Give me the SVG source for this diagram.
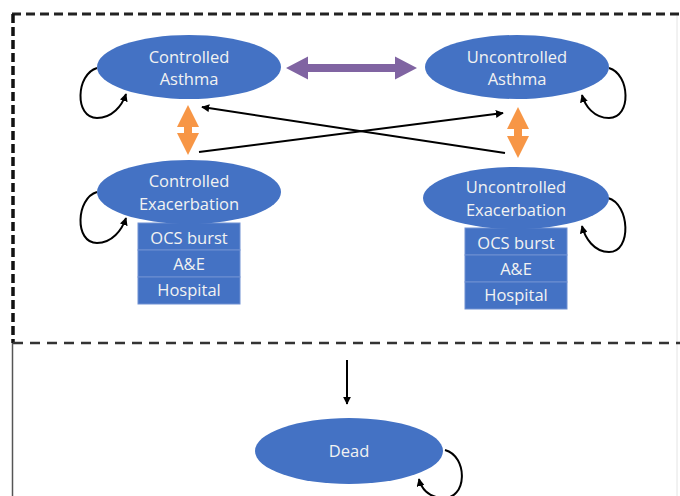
<svg xmlns="http://www.w3.org/2000/svg" width="680" height="496" viewBox="0 0 680 496">
<style>
.node{fill:#4472C4;}
.lbl{font-family:"Open Sans","Noto Sans","Liberation Sans",sans-serif;font-size:16.5px;fill:#F2F2F2;text-anchor:middle;}
.box{fill:#4472C4;stroke:#6F90D2;stroke-width:1;}
.conn{fill:none;stroke:#000;stroke-width:2;}
</style>
<defs>
<marker id="ah" viewBox="0 0 10 10" refX="9" refY="5" markerWidth="4" markerHeight="4" orient="auto" markerUnits="strokeWidth">
<path d="M0,0 L10,5 L0,10 z" fill="#000"/>
</marker>
</defs>
<rect width="680" height="496" fill="#fff"/>
<g id="frame">
<line x1="677" y1="14" x2="677" y2="496" stroke="#e4e4e4" stroke-width="1"/>
<line x1="12" y1="14" x2="680" y2="14" stroke="#222" stroke-width="3" stroke-dasharray="9,5"/>
<line x1="13" y1="14" x2="13" y2="343" stroke="#111" stroke-width="3.5" stroke-dasharray="9,4"/>
<line x1="13" y1="343" x2="680" y2="343" stroke="#333" stroke-width="2.5" stroke-dasharray="10,7"/>
<line x1="12.5" y1="343" x2="12.5" y2="496" stroke="#555" stroke-width="1.5"/>
</g>
<g id="connectors">
<path class="conn" d="M97,68 C76,74 74,118 97,118 C112,118 122,106 126,94" marker-end="url(#ah)"/>
<path class="conn" d="M97,192 C76,198 74,243 97,243 C112,243 122,230 126,218" marker-end="url(#ah)"/>
<path class="conn" d="M609,68 C630,74 632,118 609,118 C594,118 585,106 582,95" marker-end="url(#ah)"/>
<path class="conn" d="M608,198 C630,204 632,252 609,252 C594,252 585,238 582,226" marker-end="url(#ah)"/>
<path class="conn" d="M445,450 C468,456 468,500 442,498 C428,497 421,488 419,479" marker-end="url(#ah)"/>
<line class="conn" x1="505" y1="153" x2="202" y2="107" marker-end="url(#ah)"/>
<line class="conn" x1="199" y1="152" x2="503" y2="113" marker-end="url(#ah)"/>
<line class="conn" x1="347" y1="360" x2="347" y2="404" marker-end="url(#ah)"/>
<polygon fill="#8064A2" points="286,68 308,56.5 308,64 395,64 395,56.5 417,68 395,79.5 395,72 308,72 308,79.5"/>
<polygon fill="#F79646" points="188,105 199,127 192,127 192,133 199,133 188,155 177,133 184,133 184,127 177,127"/>
<polygon fill="#F79646" points="518,107 529,129 522,129 522,136 529,136 518,158 507,136 514,136 514,129 507,129"/>
</g>
<g id="controlled-asthma">
<ellipse class="node" cx="189" cy="67" rx="92" ry="32"/>
<text class="lbl" x="189" y="63">Controlled</text>
<text class="lbl" x="189" y="85">Asthma</text>
</g>
<g id="uncontrolled-asthma">
<ellipse class="node" cx="517" cy="67" rx="92" ry="32"/>
<text class="lbl" x="517" y="63">Uncontrolled</text>
<text class="lbl" x="517" y="85">Asthma</text>
</g>
<g id="controlled-exacerbation">
<rect class="box" x="138" y="223" width="102" height="27"/>
<rect class="box" x="138" y="250" width="102" height="27"/>
<rect class="box" x="138" y="277" width="102" height="27"/>
<text class="lbl" x="189" y="244">OCS burst</text>
<text class="lbl" x="189" y="270">A&amp;E</text>
<text class="lbl" x="189" y="296">Hospital</text>
<ellipse class="node" cx="189" cy="192" rx="92" ry="32"/>
<text class="lbl" x="189" y="187">Controlled</text>
<text class="lbl" x="189" y="210">Exacerbation</text>
</g>
<g id="uncontrolled-exacerbation">
<rect class="box" x="465" y="228" width="102" height="27"/>
<rect class="box" x="465" y="255" width="102" height="27"/>
<rect class="box" x="465" y="282" width="102" height="27"/>
<text class="lbl" x="516" y="249">OCS burst</text>
<text class="lbl" x="516" y="275">A&amp;E</text>
<text class="lbl" x="516" y="301">Hospital</text>
<ellipse class="node" cx="516" cy="198" rx="93" ry="31"/>
<text class="lbl" x="516" y="193">Uncontrolled</text>
<text class="lbl" x="516" y="216">Exacerbation</text>
</g>
<g id="dead">
<ellipse class="node" cx="349" cy="451" rx="94" ry="33"/>
<text class="lbl" x="349" y="457">Dead</text>
</g>
</svg>
